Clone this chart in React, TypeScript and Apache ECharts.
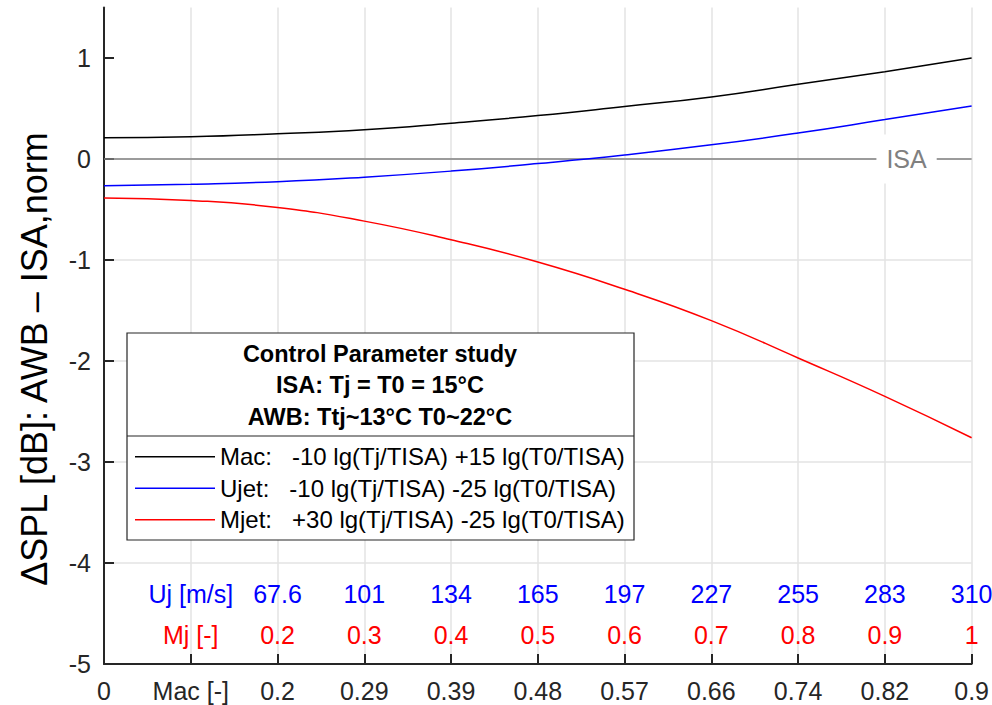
import React, { useEffect, useRef } from "react";
import * as echarts from "echarts";

// Jet Mach number (x axis positions)
const mjValues = [0, 0.1, 0.2, 0.3, 0.4, 0.5, 0.6, 0.7, 0.8, 0.9, 1.0];
// ΔSPL curves
const macValues = [0.21, 0.22, 0.25, 0.29, 0.355, 0.43, 0.52, 0.615, 0.74, 0.865, 1.0];
const ujetValues = [-0.265, -0.25, -0.225, -0.18, -0.12, -0.045, 0.04, 0.14, 0.257, 0.39, 0.525];
const mjetValues = [-0.385, -0.41, -0.48, -0.615, -0.8, -1.02, -1.29, -1.6, -1.97, -2.35, -2.76];

// tick label rows
const macTickLabels = ["0", "Mac [-]", "0.2", "0.29", "0.39", "0.48", "0.57", "0.66", "0.74", "0.82", "0.9"];
const ujRowLabels = ["", "Uj [m/s]", "67.6", "101", "134", "165", "197", "227", "255", "283", "310"];
const mjRowLabels = ["", "Mj [-]", "0.2", "0.3", "0.4", "0.5", "0.6", "0.7", "0.8", "0.9", "1"];
const yTicks = [-5, -4, -3, -2, -1, 0, 1];

const ujRowY = -4.31;
const mjRowY = -4.71;
const isaLevel = 0;
const isaLabelX = 0.925;

const seriesNames = [
  "Mac:   -10 lg(Tj/TISA) +15 lg(T0/TISA)",
  "Ujet:   -10 lg(Tj/TISA) -25 lg(T0/TISA)",
  "Mjet:   +30 lg(Tj/TISA) -25 lg(T0/TISA)",
];
const seriesColors = ["#000000", "#0000ff", "#ff0000"];
const legendTitle = ["Control Parameter study", "ISA: Tj = T0 = 15°C", "AWB: Ttj~13°C T0~22°C"];
const yAxisTitle = "ΔSPL [dB]: AWB – ISA,norm";

const FONT = "'Liberation Sans', Arial, Helvetica, sans-serif";
const AX = "#262626";

export default function App() {
  const ref = useRef<HTMLDivElement>(null);
  useEffect(() => {
    if (!ref.current) return;
    const chart = echarts.init(ref.current, undefined, { renderer: "svg" });
    const pair = (ys: number[]) => ys.map((y, i) => [mjValues[i], y]);
    const rowData = (labels: string[], y: number) =>
      labels.map((l, i) => [mjValues[i], y, l]).filter((d) => d[2] !== "");
    const curves = [macValues, ujetValues, mjetValues];
    const option: any = {
      animation: false,
      textStyle: { fontFamily: FONT },
      grid: { left: 104, right: 20, top: 7.5, bottom: 41, containLabel: false },
      xAxis: {
        type: "value",
        min: 0,
        max: 1,
        interval: 0.1,
        axisLine: { onZero: false, lineStyle: { color: AX, width: 2 } },
        axisTick: { inside: true, length: 10, lineStyle: { color: AX, width: 2 } },
        axisLabel: {
          color: AX,
          fontSize: 25,
          margin: 14,
          formatter: (v: number) => macTickLabels[Math.round(v * 10)] ?? "",
        },
        splitLine: { show: true, lineStyle: { color: "#e3e3e3", width: 1.5 } },
      },
      yAxis: {
        type: "value",
        min: -5,
        max: 1.5,
        interval: 1,
        axisLine: { show: true, onZero: false, lineStyle: { color: AX, width: 2 } },
        axisTick: { show: true, inside: true, length: 10, lineStyle: { color: AX, width: 2 }, customValues: yTicks },
        axisLabel: { color: AX, fontSize: 25, margin: 13, customValues: yTicks },
        splitLine: { show: true, showMaxLine: false, lineStyle: { color: "#e3e3e3", width: 1.5 } },
      },
      legend: {
        data: seriesNames.map((n, i) => ({ name: n, icon: "rect", itemStyle: { color: seriesColors[i] } })),
        orient: "vertical",
        left: 135,
        top: 441,
        padding: 0,
        itemWidth: 80,
        itemHeight: 1.5,
        itemGap: 0,
        selectedMode: false,
        z: 20,
        textStyle: { fontSize: 24, color: "#000", lineHeight: 31.5, fontFamily: FONT },
      },
      graphic: {
        elements: [
          {
            type: "rect",
            z: 10,
            shape: { x: 127, y: 333, width: 507, height: 207 },
            style: { fill: "#fff", stroke: AX, lineWidth: 1.2 },
          },
          {
            type: "line",
            z: 11,
            shape: { x1: 127, y1: 436, x2: 634, y2: 436 },
            style: { stroke: AX, lineWidth: 1.2 },
          },
          ...legendTitle.map((t, i) => ({
            type: "text",
            z: 11,
            x: 380,
            y: [354, 385, 417][i],
            style: {
              text: t,
              fill: "#000",
              font: `bold 23.5px ${FONT}`,
              textAlign: "center",
              textVerticalAlign: "middle",
            },
          })),
          {
            type: "text",
            z: 11,
            x: 34,
            y: 359,
            rotation: Math.PI / 2,
            style: {
              text: yAxisTitle,
              fill: "#000",
              font: `36px ${FONT}`,
              textAlign: "center",
              textVerticalAlign: "middle",
            },
          },
        ],
      },
      series: [
        {
          name: "ISA",
          type: "line",
          data: [[0, isaLevel], [1, isaLevel]],
          symbol: "none",
          lineStyle: { color: "#808080", width: 1.5 },
          z: 2,
        },
        ...seriesNames.map((n, i) => ({
          name: n,
          type: "line",
          data: pair(curves[i]),
          smooth: true,
          symbol: "none",
          color: seriesColors[i],
          lineStyle: { color: seriesColors[i], width: 1.5 },
          z: 3,
        })),
        {
          name: "isaLabel",
          type: "scatter",
          data: [[isaLabelX, isaLevel, "ISA"]],
          symbolSize: 0,
          z: 5,
          itemStyle: { opacity: 1 },
          label: {
            show: true,
            position: "inside",
            formatter: (p: any) => p.value[2],
            color: "#808080",
            fontSize: 25,
            backgroundColor: "#ffffff",
            padding: [12, 10],
          },
        },
        {
          name: "ujRow",
          type: "scatter",
          data: rowData(ujRowLabels, ujRowY),
          symbolSize: 0,
          z: 4,
          itemStyle: { opacity: 1 },
          label: {
            show: true,
            position: "inside",
            formatter: (p: any) => p.value[2],
            color: "#0000ff",
            fontSize: 25,
          },
        },
        {
          name: "mjRow",
          type: "scatter",
          data: rowData(mjRowLabels, mjRowY),
          symbolSize: 0,
          z: 4,
          itemStyle: { opacity: 1 },
          label: {
            show: true,
            position: "inside",
            formatter: (p: any) => p.value[2],
            color: "#ff0000",
            fontSize: 25,
          },
        },
      ],
    };
    chart.setOption(option);
    return () => chart.dispose();
  }, []);
  return (
    <div
      ref={ref}
      style={{ position: "absolute", left: 0, top: 0, width: 992, height: 705, background: "#fff" }}
    />
  );
}
